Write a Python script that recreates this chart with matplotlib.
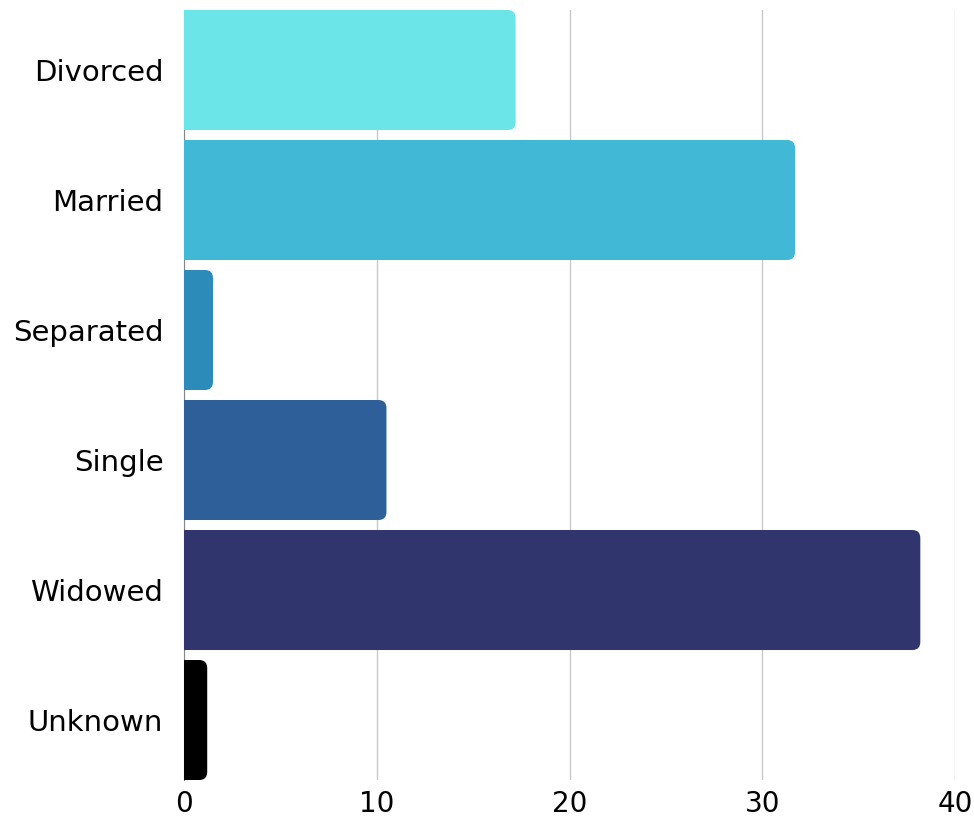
import matplotlib.pyplot as plt
from matplotlib.patches import FancyBboxPatch

plt.rcParams["font.family"] = ["DejaVu Sans"]

# data
status = ["Divorced", "Married", "Separated", "Single", "Widowed", "Unknown"]
values = [17.2, 31.7, 1.5, 10.5, 38.2, 1.2]
colors = ["#6ce5e8", "#41b8d5", "#2d8bba", "#2f5f98", "#31356e", "#000000"]

fig = plt.figure(figsize=(9.74, 8.19), dpi=100)
ax = fig.add_axes([0.189, 0.0476, 0.7915, 0.9402])

bar_h = 120 / 130
bars = ax.barh(range(len(status)), values, height=bar_h, color=colors, zorder=2)

# swap plain bars for ones with rounded right corners
ax.set_xlim(0, 40)
ax.set_ylim(len(status) - 1 + bar_h / 2, -bar_h / 2)
fig.canvas.draw()
px_x = ax.transData.transform((1, 0))[0] - ax.transData.transform((0, 0))[0]
px_y = abs(ax.transData.transform((0, 1))[1] - ax.transData.transform((0, 0))[1])
r = 8 / px_x
for b in bars:
    x, y, w, h = b.get_x(), b.get_y(), b.get_width(), b.get_height()
    p = FancyBboxPatch((x - r, y), w + r, h,
                       boxstyle="round,pad=0,rounding_size=%f" % r,
                       mutation_aspect=px_x / px_y,
                       fc=b.get_facecolor(), ec="none", zorder=2)
    ax.add_patch(p)
    b.remove()

ax.set_yticks(range(len(status)))
ax.set_yticklabels(status)
ax.set_xticks([0, 10, 20, 30, 40])
ax.tick_params(axis="both", length=0, labelsize=21)
ax.tick_params(axis="y", pad=15)
ax.tick_params(axis="x", pad=7, labelsize=20)

ax.grid(axis="x", color="#c8c8c8", linewidth=1, zorder=0)
ax.set_axisbelow(True)
for s in ["top", "right", "bottom"]:
    ax.spines[s].set_visible(False)
ax.spines["left"].set_color("#888888")
ax.spines["left"].set_zorder(1)

plt.savefig("out.png", dpi=100)
